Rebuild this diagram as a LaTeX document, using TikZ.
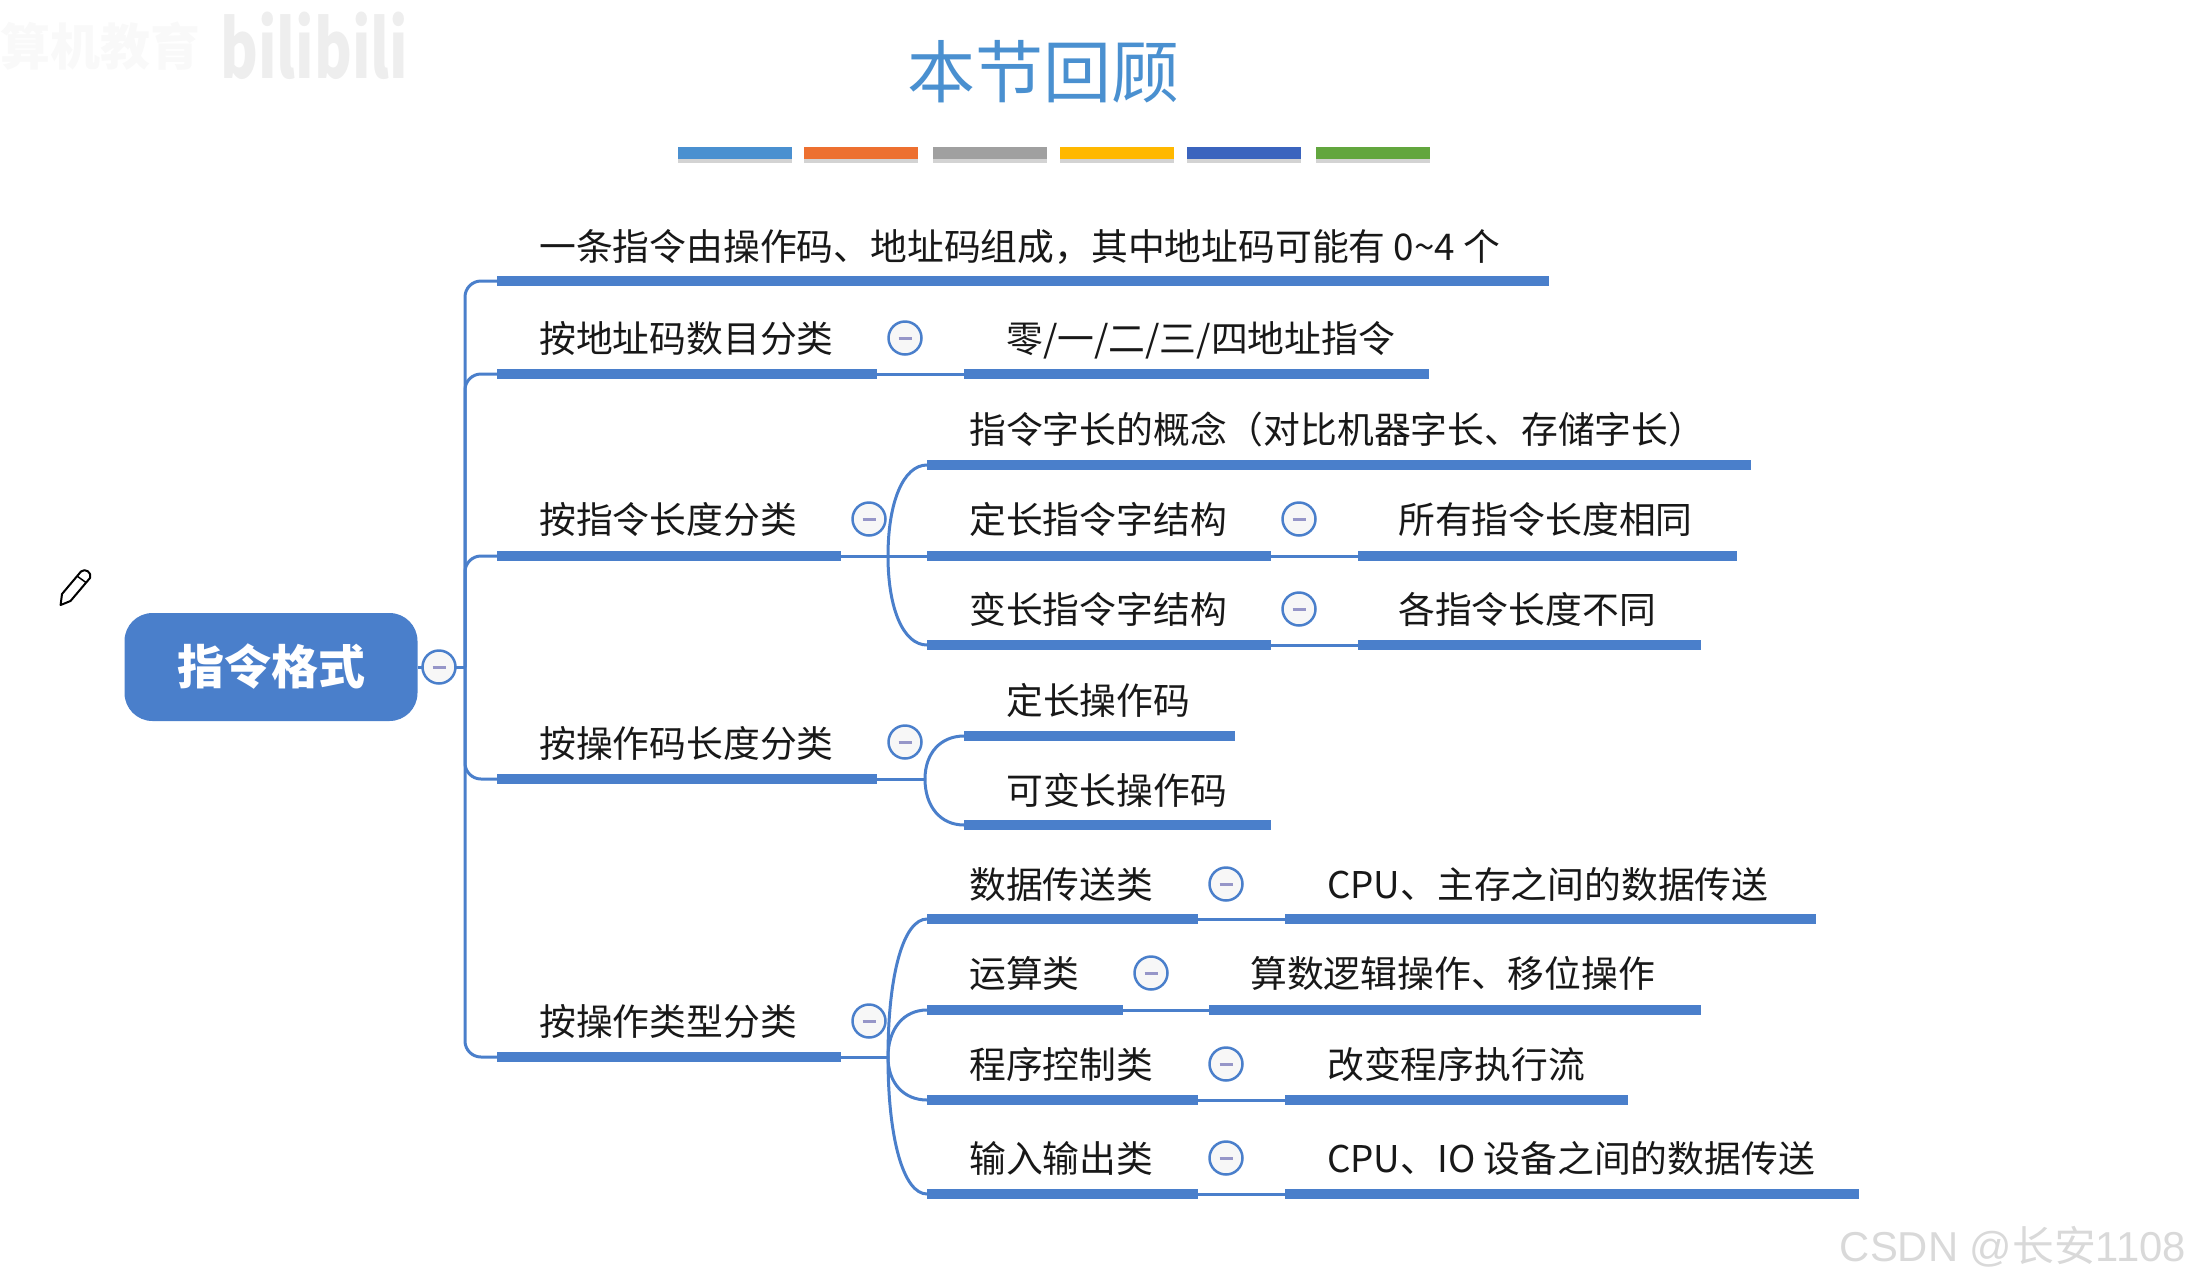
\documentclass[tikz,border=0pt]{standalone}
\usepackage{fontspec}
\setmainfont{Noto Sans CJK SC}
\newfontfamily\wmfont{Liberation Sans}
\usetikzlibrary{shapes, arrows.meta, positioning, calc, shadows}
\definecolor{barblue}{RGB}{74, 127, 203}
\definecolor{titleblue}{RGB}{74, 144, 208}
\definecolor{minusgray}{RGB}{150, 150, 200}
\definecolor{inkblack}{RGB}{24, 24, 24}
\definecolor{orange1}{RGB}{237, 112, 48}
\definecolor{gray1}{RGB}{160, 160, 160}
\definecolor{yellow1}{RGB}{255, 184, 0}
\definecolor{navy1}{RGB}{59, 100, 190}
\definecolor{green1}{RGB}{98, 166, 62}
\tikzset{
  rootnode/.style={rectangle, rounded corners=28pt, fill=barblue, text=white, minimum width=293pt, minimum height=108pt, inner sep=0pt, font=\fontsize{47}{52}\selectfont\bfseries},
  barnode/.style={rectangle, fill=barblue, minimum height=10pt, inner sep=0pt, outer sep=0pt},
  leafnode/.style={anchor=west, inner sep=0pt, text=inkblack, text height=35pt, text depth=6pt, font=\fontsize{36.8}{40}\selectfont},
  foldnode/.style={circle, draw=barblue, fill=gray!6, line width=2.5pt, minimum size=33pt, inner sep=0pt},
  branch/.style={draw=barblue, line width=3pt},
  stripe/.style={rectangle, minimum width=114pt, minimum height=12pt, inner sep=0pt, drop shadow={shadow xshift=0pt, shadow yshift=-4pt, opacity=.35}},
}
\newcommand{\minusmark}{\textcolor{minusgray}{\rule{13pt}{3pt}}}
\begin{document}
\begin{tikzpicture}[x=1pt, y=-1pt]
  \useasboundingbox (0,0) rectangle (2190,1283);
  \node[text=gray!5, anchor=west, inner sep=0pt, font=\fontsize{50}{54}\selectfont\bfseries] (wma) at (0,46) {算机教育};
  \node[text=gray!13, anchor=west, inner sep=0pt, font=\fontsize{80}{84}\selectfont\bfseries] (wmb) at (220,46) {\scalebox{0.72}[1]{bilibili}};
  \node[text=titleblue, font=\fontsize{68}{72}\selectfont, inner sep=0pt] (title) at (1043,72) {本节回顾};
  \foreach \n/\col/\x in {sa/titleblue/735,sb/orange1/861,sc/gray1/990,sd/yellow1/1117,se/navy1/1244,sf/green1/1373}
    \node[stripe, fill=\col] (\n) at (\x,153) {};
  \node[rootnode] (root) at (271,667) {指令格式};
  \foreach \n/\xa/\xb/\y in {r0/497/1549/281, r1/497/877/374, r2/497/841/556, r3/497/877/779, r4/497/841/1057,
    s1/964/1429/374, a1/927/1751/465, a2/927/1271/556, a3/927/1271/645, b2/1358/1737/556, b3/1358/1701/645,
    c1/964/1235/736, c2/964/1271/825, d1/927/1198/919, d2/927/1123/1010, d3/927/1198/1100, d4/927/1198/1194,
    e1/1285/1816/919, e2/1209/1701/1010, e3/1285/1628/1100, e4/1285/1859/1194}
    \node[barnode, minimum width={(\xb-\xa)*1pt}] (\n) at ({(\xa+\xb)/2},\y) {};
  \coordinate (tr) at (465,667);
  \coordinate (ja) at (888,556);
  \coordinate (jc) at (925,779);
  \coordinate (jd) at (888,1057);
  \draw[branch] (root.east) -- (tr);
  \foreach \n in {r0,r1,r2,r3,r4} \draw[branch, rounded corners=16pt] (tr) -- (tr |- \n.west) -- (\n.west);
  \foreach \i/\j in {r1/s1,a2/b2,a3/b3,d1/e1,d2/e2,d3/e3,d4/e4} \draw[branch] (\i.east) -- (\j.west);
  \draw[branch] (r2.east) -- (a2.west);
  \draw[branch] (r3.east) -- (jc);
  \draw[branch] (r4.east) -- (jd);
  \foreach \n in {a1,a3} \draw[branch] (ja) .. controls ($(ja)!0.6!(ja |- \n.west)$) and ($(\n.west)!0.6!(ja |- \n.west)$) .. (\n.west);
  \foreach \n in {c1,c2} \draw[branch] (jc) .. controls ($(jc)!0.6!(jc |- \n.west)$) and ($(\n.west)!0.6!(jc |- \n.west)$) .. (\n.west);
  \foreach \n in {d1,d2,d3,d4} \draw[branch] (jd) .. controls ($(jd)!0.6!(jd |- \n.west)$) and ($(\n.west)!0.6!(jd |- \n.west)$) .. (\n.west);
  \foreach \n/\x/\y in {f0/439/667, f1/905/338, f2/869/519, f3/1299/519, f4/1299/609, f5/905/742, f6/869/1021, f7/1226/884, f8/1151/973, f9/1226/1064, f10/1226/1158}
    \node[foldnode] (\n) at (\x,\y) {\minusmark};
  \node[leafnode] (t0) at (539,246) {一条指令由操作码、地址码组成，其中地址码可能有 0\textasciitilde4 个};
  \node[leafnode] (t1) at (539,338) {按地址码数目分类};
  \node[leafnode] (t2) at (539,519) {按指令长度分类};
  \node[leafnode] (t3) at (539,743) {按操作码长度分类};
  \node[leafnode] (t4) at (539,1021) {按操作类型分类};
  \node[leafnode] (u1) at (1006,338) {零/一/二/三/四地址指令};
  \node[leafnode] (v1) at (969,429) {指令字长的概念（对比机器字长、存储字长）};
  \node[leafnode] (v2) at (969,519) {定长指令字结构};
  \node[leafnode] (v3) at (969,609) {变长指令字结构};
  \node[leafnode] (w2) at (1398,519) {所有指令长度相同};
  \node[leafnode] (w3) at (1398,609) {各指令长度不同};
  \node[leafnode] (x1) at (1006,700) {定长操作码};
  \node[leafnode] (x2) at (1006,790) {可变长操作码};
  \node[leafnode] (y1) at (969,884) {数据传送类};
  \node[leafnode] (y2) at (969,973) {运算类};
  \node[leafnode] (y3) at (969,1064) {程序控制类};
  \node[leafnode] (y4) at (969,1158) {输入输出类};
  \node[leafnode] (z1) at (1327,884) {CPU、主存之间的数据传送};
  \node[leafnode] (z2) at (1250,973) {算数逻辑操作、移位操作};
  \node[leafnode] (z3) at (1327,1064) {改变程序执行流};
  \node[leafnode] (z4) at (1327,1158) {CPU、IO 设备之间的数据传送};
  \node[anchor=east, inner sep=0pt, text=gray!30, font=\fontsize{41.8}{46}\selectfont] (mark) at (2186,1247) {{\wmfont CSDN @}长安{\wmfont 1108}};
  \draw[line width=2pt, line join=round, fill=white] (60.6,605) -- (70.5,601) -- (90,578) .. controls (92,572) and (85,568) .. (81,571.5) -- (62,594) -- cycle;
  \draw[line width=1.5pt] (86,582.5) -- (77,576);
\end{tikzpicture}
\end{document}
